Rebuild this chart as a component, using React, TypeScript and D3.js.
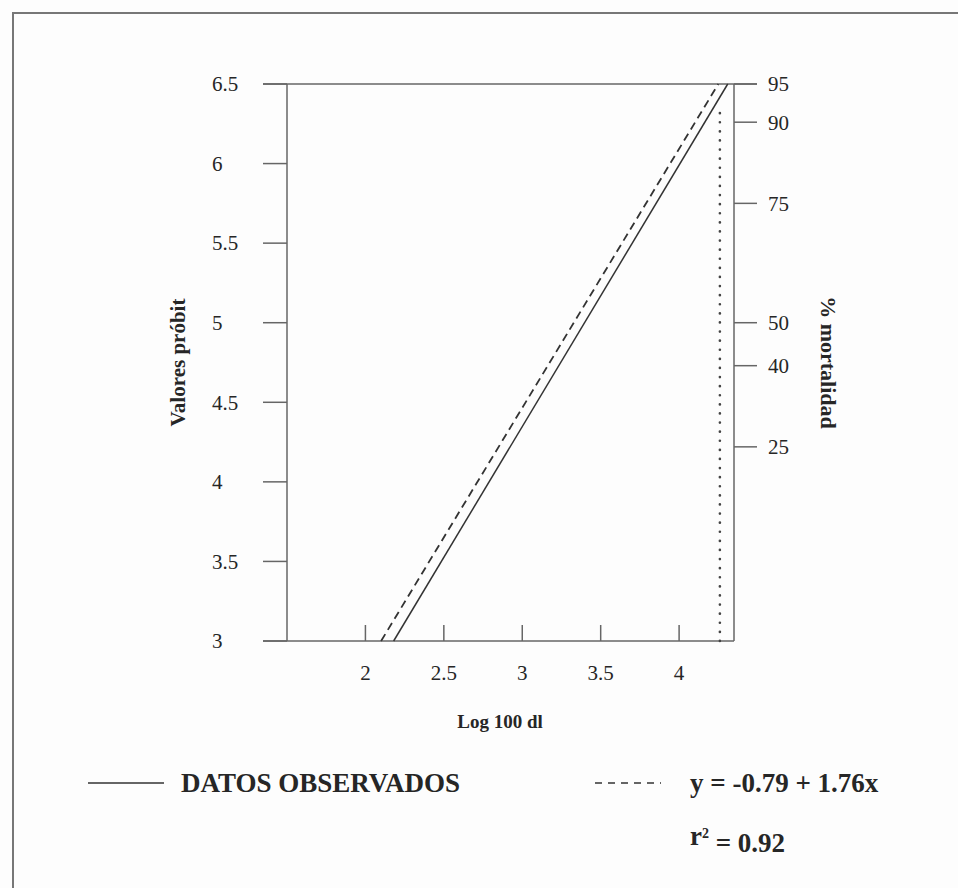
import React from "react";
import * as d3 from "d3";

const xTicks = [2, 2.5, 3, 3.5, 4];
const xTickLabels = ["2", "2.5", "3", "3.5", "4"];
const yTicks = [3, 3.5, 4, 4.5, 5, 5.5, 6, 6.5];
const yTickLabels = ["3", "3.5", "4", "4.5", "5", "5.5", "6", "6.5"];
const pctLabels = ["95", "90", "75", "50", "40", "25"];
const pctProbit = [6.5, 6.26, 5.75, 5.0, 4.73, 4.22];

const observedX = [2.18, 4.31];
const observedY = [3, 6.5];
const fittedX = [2.1, 4.25];
const fittedY = [3, 6.5];
const refX = [4.26, 4.26];
const refY = [3, 6.32];

const W = 958;
const H = 888;
const FONT = "'Liberation Serif', 'Times New Roman', Times, serif";
const INK = "#262626";
const AXIS = "#666";

export default function App() {
  const x = d3.scaleLinear().domain([1.5, 4.35]).range([287, 734]);
  const y = d3.scaleLinear().domain([3, 6.5]).range([641, 84]);
  const line = d3
    .line<[number, number]>()
    .x((d) => x(d[0]))
    .y((d) => y(d[1]));
  const obs = observedX.map((v, i) => [v, observedY[i]] as [number, number]);
  const fit = fittedX.map((v, i) => [v, fittedY[i]] as [number, number]);
  const ref = refX.map((v, i) => [v, refY[i]] as [number, number]);
  const [x0, x1] = x.range();
  const [yb, yt] = y.range();

  return (
    <svg
      width={W}
      height={H}
      style={{ position: "fixed", left: 0, top: 0, background: "#fdfdfd" }}
      fontFamily={FONT}
    >
      <rect x={13} y={13} width={1000} height={1000} fill="none" stroke="#777" strokeWidth={2} />

      {/* frame / axes */}
      <line x1={x0 - 24} x2={x1 + 23} y1={yt} y2={yt} stroke={AXIS} strokeWidth={1.5} />
      <line x1={x0 - 24} x2={x1} y1={yb} y2={yb} stroke={AXIS} strokeWidth={1.5} />
      <line x1={x0} x2={x0} y1={yt} y2={yb} stroke={AXIS} strokeWidth={1.5} />
      <line x1={x1} x2={x1} y1={yt} y2={yb} stroke={AXIS} strokeWidth={1.5} />

      {/* left ticks */}
      {yTicks.map((t, i) => (
        <g key={"yt" + i}>
          <line x1={x0 - 24} x2={x0} y1={y(t)} y2={y(t)} stroke={AXIS} strokeWidth={1.5} />
          <text x={212} y={y(t)} dy="0.35em" fontSize={21} fill={INK}>
            {yTickLabels[i]}
          </text>
        </g>
      ))}

      {/* right ticks */}
      {pctProbit.map((p, i) => (
        <g key={"rt" + i}>
          <line x1={x1} x2={x1 + 23} y1={y(p)} y2={y(p)} stroke={AXIS} strokeWidth={1.5} />
          <text x={768} y={y(p)} dy="0.35em" fontSize={21} fill={INK}>
            {pctLabels[i]}
          </text>
        </g>
      ))}

      {/* bottom ticks */}
      {xTicks.map((t, i) => (
        <g key={"xt" + i}>
          <line x1={x(t)} x2={x(t)} y1={yb} y2={yb - 16} stroke={AXIS} strokeWidth={1.5} />
          <text x={x(t)} y={673} dy="0.35em" textAnchor="middle" fontSize={21} fill={INK}>
            {xTickLabels[i]}
          </text>
        </g>
      ))}

      {/* data lines */}
      <path
        d={line(ref) || ""}
        fill="none"
        stroke="#444"
        strokeWidth={2.6}
        strokeLinecap="round"
        strokeDasharray="0.1 9"
      />
      <path d={line(fit) || ""} fill="none" stroke="#333" strokeWidth={1.8} strokeDasharray="8 5" />
      <path d={line(obs) || ""} fill="none" stroke="#333" strokeWidth={1.5} />

      {/* axis titles */}
      <text
        transform={`translate(178, ${(yt + yb) / 2}) rotate(-90)`}
        dy="0.35em"
        textAnchor="middle"
        fontSize={21}
        fontWeight="bold"
        fill={INK}
      >
        Valores próbit
      </text>
      <text
        transform={`translate(829, ${(yt + yb) / 2}) rotate(90)`}
        dy="0.35em"
        textAnchor="middle"
        fontSize={22}
        fontWeight="bold"
        fill={INK}
      >
        % mortalidad
      </text>
      <text x={500} y={721} dy="0.35em" textAnchor="middle" fontSize={19} fontWeight="bold" fill={INK}>
        Log 100 dl
      </text>

      {/* legend */}
      <line x1={88} x2={164} y1={783} y2={783} stroke="#333" strokeWidth={1.5} />
      <text x={181} y={783} dy="0.35em" fontSize={27} fontWeight="bold" fill={INK}>
        DATOS OBSERVADOS
      </text>
      <line x1={595} x2={661} y1={783} y2={783} stroke="#333" strokeWidth={1.5} strokeDasharray="7 6" />
      <text x={690} y={783} dy="0.35em" fontSize={27} fontWeight="bold" fill={INK}>
        y = -0.79 + 1.76x
      </text>
      <text x={690} y={836} dy="0.35em" fontSize={27} fontWeight="bold" fill={INK}>
        r<tspan dy="-0.5em" fontSize={14}>2</tspan>
        <tspan dy="0.5em"> = 0.92</tspan>
      </text>
    </svg>
  );
}
